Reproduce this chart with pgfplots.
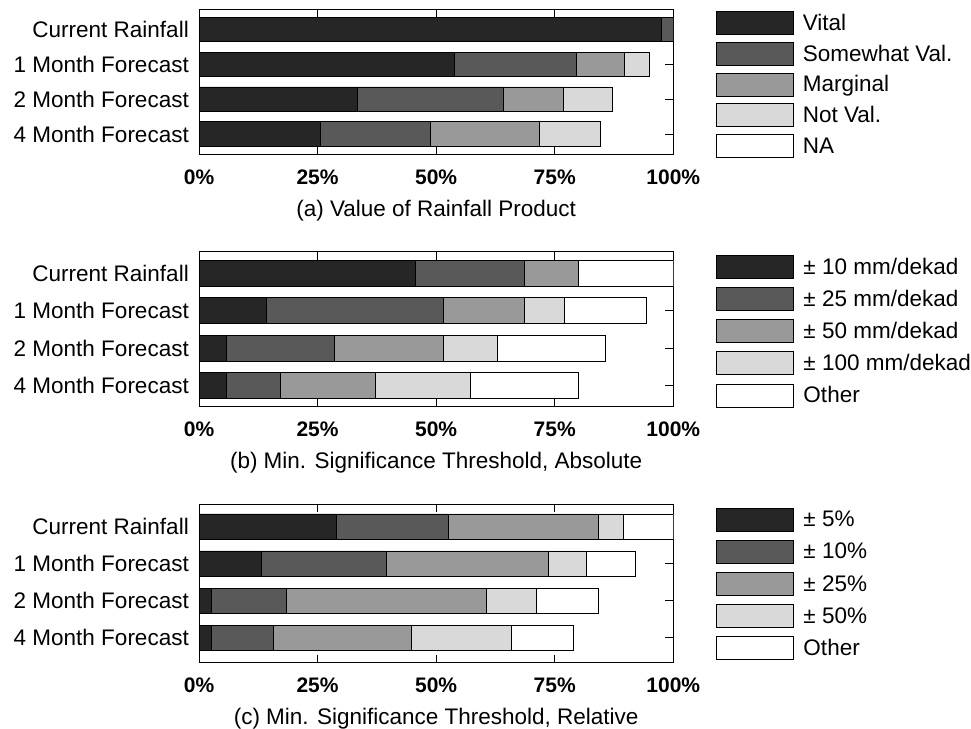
\documentclass[border=0pt]{standalone}
\usepackage{fontspec}
\setmainfont{Liberation Sans}
\usepackage{pgfplots}
\pgfplotsset{compat=1.18}

\definecolor{gA}{RGB}{38,38,38}
\definecolor{gB}{RGB}{89,89,89}
\definecolor{gC}{RGB}{153,153,153}
\definecolor{gD}{RGB}{217,217,217}
\definecolor{gE}{RGB}{255,255,255}

\pgfplotsset{
  panel/.style={
    scale only axis, width=474.3pt,
    xbar stacked, xmin=0, xmax=100, y dir=reverse,
    ytick={0,1,2,3},
    yticklabels={Current Rainfall,1 Month Forecast,2 Month Forecast,4 Month Forecast},
    xtick={0,25,50,75,100},
    xticklabels={0\%,25\%,50\%,75\%,100\%},
    tick align=inside, xtick pos=both, ytick pos=both,
    xticklabel pos=lower, yticklabel pos=left,
    major tick length=8pt,
    axis line style={line width=0.8pt, black},
    tick style={line width=0.8pt, black},
    yticklabel style={font=\fontsize{22.5}{27}\selectfont, anchor=east, inner sep=0pt, xshift=-10pt},
    xticklabel style={font=\fontsize{21}{25}\selectfont\bfseries, anchor=base, inner sep=0pt, yshift=-29.5pt},
    xlabel style={font=\fontsize{22.5}{27}\selectfont, at={(axis description cs:0.5,0)}, anchor=base, inner sep=0pt, yshift=-62pt},
    legend style={draw=none, fill=none, inner sep=0pt, anchor=north west,
      font=\fontsize{22.5}{27}\selectfont, nodes={inner sep=0pt}, column sep=9.5pt},
    legend cell align=left,
    legend image code/.code={\draw[##1] (0pt,-11.5pt) rectangle (77pt,11.5pt);},
  },
  seg/.style={draw=black, line width=0.8pt, fill=#1},
}

\begin{document}
\begin{tikzpicture}
\useasboundingbox (0,0) rectangle (971pt,-728pt);

% (a) value of each rainfall product (39 respondents)
\begin{axis}[panel, at={(199pt,-9.3pt)}, anchor=north west,
  height=145.4pt, ymin=-0.58, ymax=3.594, bar width=24.5pt,
  xlabel={(a) Value of Rainfall Product},
  legend style={at={(1.0886,0.99)}, row sep=7pt}]
\addplot[seg=gA] coordinates {(97.44,0) (53.85,1) (33.33,2) (25.64,3)};
\addplot[seg=gB] coordinates {(2.56,0) (25.64,1) (30.77,2) (23.08,3)};
\addplot[seg=gC] coordinates {(0,0) (10.26,1) (12.82,2) (23.08,3)};
\addplot[seg=gD] coordinates {(0,0) (5.13,1) (10.26,2) (12.82,3)};
\addplot[seg=gE] coordinates {(0,0) (0,1) (0,2) (0,3)};
\legend{Vital,Somewhat Val.,Marginal,Not Val.,NA}
\end{axis}

% (b) minimum significant change, absolute (35 respondents)
\begin{axis}[panel, at={(199pt,-251.7pt)}, anchor=north west,
  height=154.8pt, ymin=-0.568, ymax=3.56, bar width=26pt,
  xlabel={(b) Min. Significance Threshold, Absolute},
  legend style={at={(1.09,0.979)}, row sep=8.3pt}]
\addplot[seg=gA] coordinates {(45.71,0) (14.29,1) (5.71,2) (5.71,3)};
\addplot[seg=gB] coordinates {(22.86,0) (37.14,1) (22.86,2) (11.43,3)};
\addplot[seg=gC] coordinates {(11.43,0) (17.14,1) (22.86,2) (20.00,3)};
\addplot[seg=gD] coordinates {(0,0) (8.57,1) (11.43,2) (20.00,3)};
\addplot[seg=gE] coordinates {(20.00,0) (17.14,1) (22.86,2) (22.86,3)};
\legend{± 10 mm/dekad,± 25 mm/dekad,± 50 mm/dekad,± 100 mm/dekad,Other}
\end{axis}

% (c) minimum significant change, relative (38 respondents)
\begin{axis}[panel, at={(199pt,-504pt)}, anchor=north west,
  height=158.5pt, ymin=-0.613, ymax=3.667, bar width=25.5pt,
  xlabel={(c) Min. Significance Threshold, Relative},
  legend style={at={(1.09,0.977)}, row sep=8.3pt}]
\addplot[seg=gA] coordinates {(28.95,0) (13.16,1) (2.63,2) (2.63,3)};
\addplot[seg=gB] coordinates {(23.68,0) (26.32,1) (15.79,2) (13.16,3)};
\addplot[seg=gC] coordinates {(31.58,0) (34.21,1) (42.11,2) (28.95,3)};
\addplot[seg=gD] coordinates {(5.26,0) (7.89,1) (10.53,2) (21.05,3)};
\addplot[seg=gE] coordinates {(10.53,0) (10.53,1) (13.16,2) (13.16,3)};
\legend{± 5\%,± 10\%,± 25\%,± 50\%,Other}
\end{axis}
\end{tikzpicture}
\end{document}
